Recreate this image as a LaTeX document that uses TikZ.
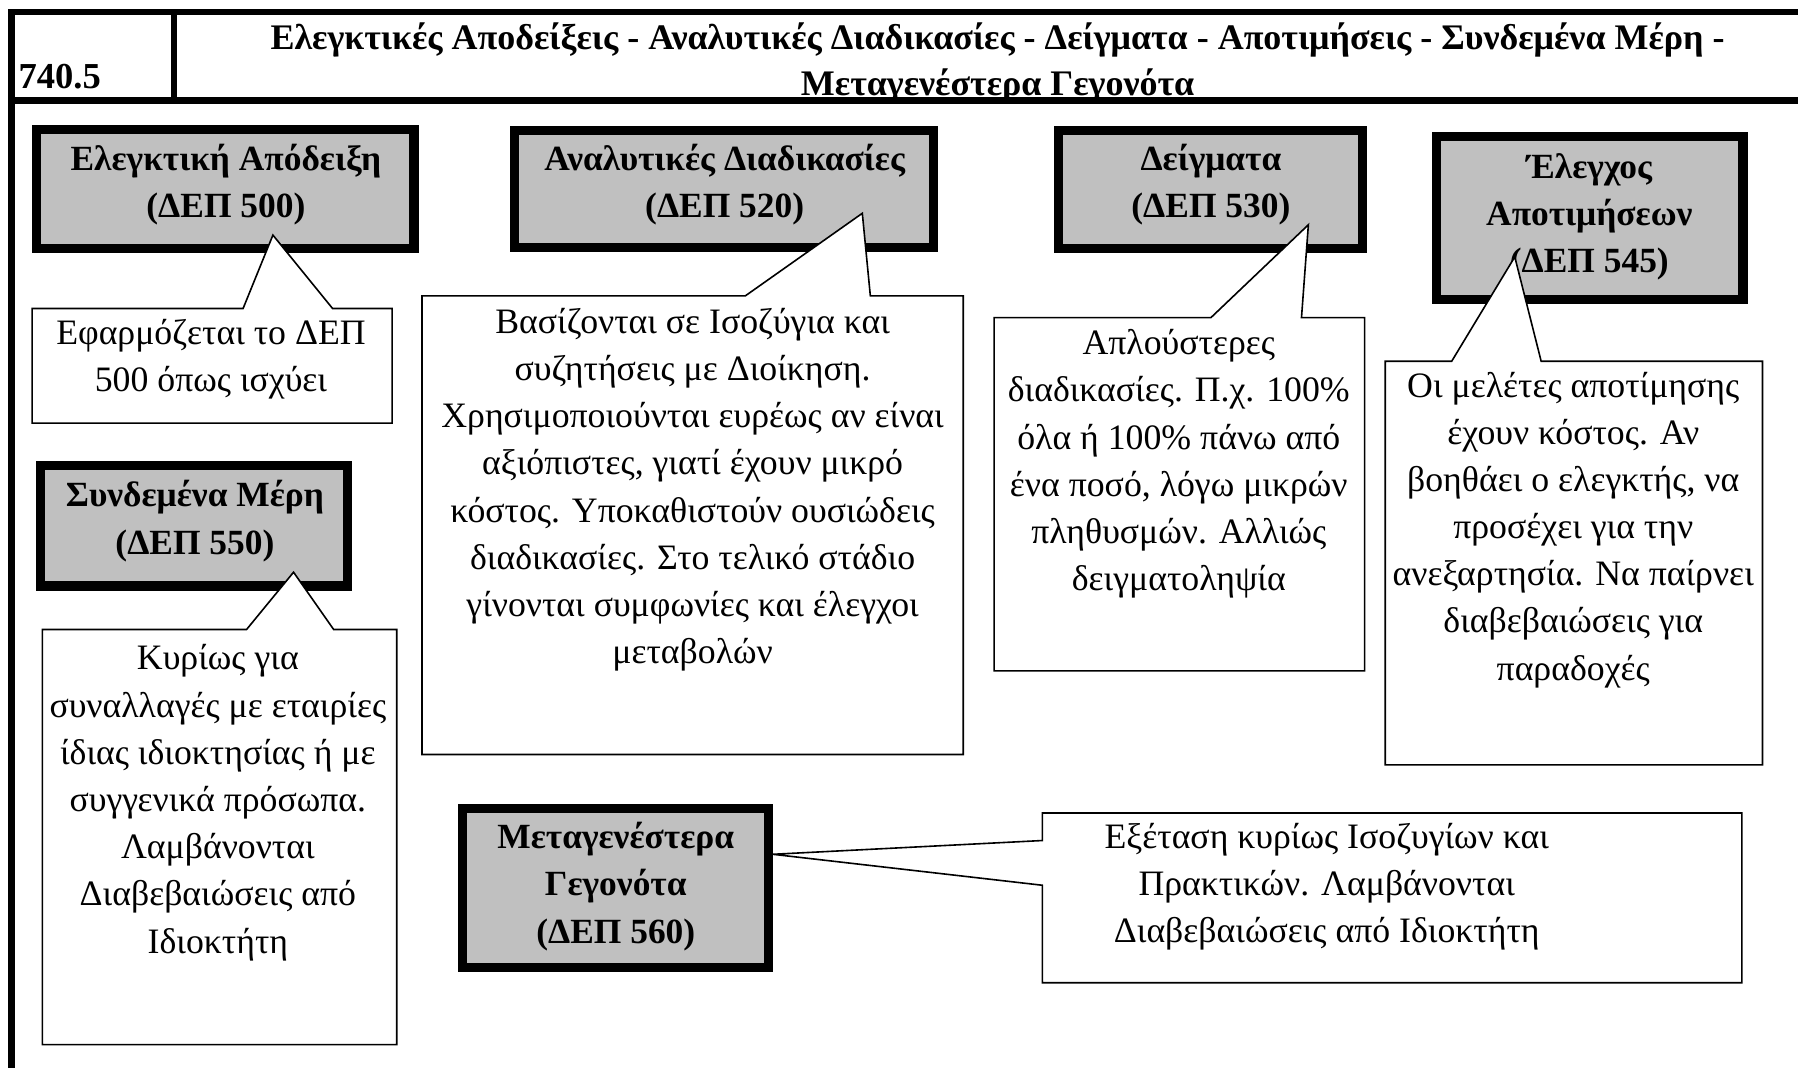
\documentclass[tikz,border=0pt]{standalone}
\usepackage{fontspec}
\setmainfont{Liberation Serif}
\definecolor{boxgray}{RGB}{192,192,192}
\begin{document}
\begin{tikzpicture}[x=1bp,y=-1bp,
  frameline/.style={draw=black, line width=5.5bp},
  gbox/.style={draw=black, line width=8bp, fill=boxgray, rectangle, inner sep=0pt},
  btxt/.style={font=\bfseries\fontsize{31}{41.5}\selectfont, align=center, inner sep=0pt},
  ctxt/.style={font=\fontsize{31.3}{41.3}\selectfont, align=center, inner sep=0pt},
  callout/.style={draw=black, line width=1.4bp, fill=white, line join=miter},
  ttxt/.style={font=\bfseries\fontsize{31.5}{40}\selectfont, align=center, inner sep=0pt}
]
\useasboundingbox (0,0) rectangle (1568,931);
\fill[white] (0,0) rectangle (1568,931);

% header texts
\node[ttxt] (title) at (870,55) {Ελεγκτικές Αποδείξεις - Αναλυτικές Διαδικασίες - Δείγματα - Αποτιμήσεις - Συνδεμένα Μέρη -\\Μεταγενέστερα Γεγονότα};
\node[font=\bfseries\fontsize{32}{38}\selectfont, anchor=base west, inner sep=0pt] (code) at (16,77) {740.5};

% header frame
\coordinate (tl) at (7,10.6);
\coordinate (tr) at (1568,10.6);
\coordinate (hl) at (7,87.6);
\coordinate (hr) at (1568,87.6);
\coordinate (lb) at (10,931);
\coordinate (lt) at (10,8);
\coordinate (dt) at (152,10.6);
\coordinate (db) at (152,87.6);
\draw[frameline] (tl) -- (tr);
\draw[frameline, line width=6bp] (hl) -- (hr);
\draw[frameline] (lt) -- (lb);
\draw[frameline, line width=5bp] (dt) -- (db);

% gray boxes
\node[gbox, minimum width=329bp, minimum height=104bp] (b1) at (196.5,165) {};
\node[gbox, minimum width=365bp, minimum height=102bp] (b2) at (631.5,165) {};
\node[gbox, minimum width=265bp, minimum height=103bp] (b3) at (1055.5,165.5) {};
\node[gbox, minimum width=267bp, minimum height=142bp] (b4) at (1386.5,190) {};
\node[gbox, minimum width=268bp, minimum height=105bp] (b5) at (169,458.5) {};
\node[gbox, minimum width=267bp, minimum height=139bp] (b6) at (536.5,774.5) {};

\node[btxt] (b1t) at (197,161) {Ελεγκτική Απόδειξη\\(ΔΕΠ 500)};
\node[btxt] (b2t) at (632,161) {Αναλυτικές Διαδικασίες\\(ΔΕΠ 520)};
\node[btxt] (b3t) at (1056,161) {Δείγματα\\(ΔΕΠ 530)};
\node[btxt] (b4t) at (1386,189) {Έλεγχος\\Αποτιμήσεων\\(ΔΕΠ 545)};
\node[btxt] (b5t) at (170,454.5) {Συνδεμένα Μέρη\\(ΔΕΠ 550)};
\node[btxt] (b6t) at (537,773) {Μεταγενέστερα\\Γεγονότα\\(ΔΕΠ 560)};

% callout tips
\coordinate (t1) at (238,205);
\coordinate (t2) at (752,186);
\coordinate (t3) at (1141,196);
\coordinate (t4) at (1321,224);
\coordinate (t5) at (256,499);
\coordinate (t6) at (674,745);

% callouts
\draw[callout] (28,269) -- (212,269) -- (t1) -- (290,269) -- (342,269) -- (342,369) -- (28,369) -- cycle;
\draw[callout] (368,258) -- (650,258) -- (t2) -- (759,258) -- (840,258) -- (840,658) -- (368,658) -- cycle;
\draw[callout] (867,277) -- (1056,277) -- (t3) -- (1135,277) -- (1190,277) -- (1190,585) -- (867,585) -- cycle;
\draw[callout] (1208,315) -- (1266,315) -- (t4) -- (1344,315) -- (1537,315) -- (1537,667) -- (1208,667) -- cycle;
\draw[callout] (37,549) -- (215,549) -- (t5) -- (291,549) -- (346,549) -- (346,911) -- (37,911) -- cycle;
\draw[callout] (909,709) -- (1519,709) -- (1519,857) -- (909,857) -- (909,772) -- (t6) -- (909,733) -- cycle;

\node[ctxt] (c1) at (184,313) {Εφαρμόζεται το ΔΕΠ\\500 όπως ισχύει};
\node[ctxt] (c2) at (604,427) {Βασίζονται σε Ισοζύγια και\\συζητήσεις με Διοίκηση.\\Χρησιμοποιούνται ευρέως αν είναι\\αξιόπιστες, γιατί έχουν μικρό\\κόστος. Υποκαθιστούν ουσιώδεις\\διαδικασίες. Στο τελικό στάδιο\\γίνονται συμφωνίες και έλεγχοι\\μεταβολών};
\node[ctxt] (c3) at (1028,404.5) {Απλούστερες\\διαδικασίες. Π.χ. 100\%\\όλα ή 100\% πάνω από\\ένα ποσό, λόγω μικρών\\πληθυσμών. Αλλιώς\\δειγματοληψία};
\node[ctxt] (c4) at (1372,462) {Οι μελέτες αποτίμησης\\έχουν κόστος. Αν\\βοηθάει ο ελεγκτής, να\\προσέχει για την\\ανεξαρτησία. Να παίρνει\\διαβεβαιώσεις για\\παραδοχές};
\node[ctxt] (c5) at (190,700) {Κυρίως για\\συναλλαγές με εταιρίες\\ίδιας ιδιοκτησίας ή με\\συγγενικά πρόσωπα.\\Λαμβάνονται\\Διαβεβαιώσεις από\\Ιδιοκτήτη};
\node[ctxt] (c6) at (1157,773) {Εξέταση κυρίως Ισοζυγίων και\\Πρακτικών. Λαμβάνονται\\Διαβεβαιώσεις από Ιδιοκτήτη};
\end{tikzpicture}
\end{document}
